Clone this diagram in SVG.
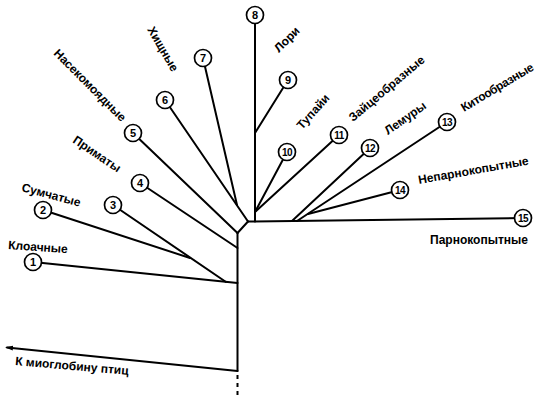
<svg xmlns="http://www.w3.org/2000/svg" width="541" height="400" viewBox="0 0 541 400">
<defs>
<style>
.ln{stroke:#000;stroke-width:2;fill:none;stroke-linecap:round}
.dash{stroke:#000;stroke-width:2;fill:none;stroke-dasharray:4 4}
circle{fill:#fff;stroke:#000;stroke-width:1.7}
.num{font-family:"Liberation Sans",Arial,sans-serif;font-weight:bold;font-size:11px;text-anchor:middle;fill:#000}
.num2{font-family:"Liberation Sans",Arial,sans-serif;font-weight:bold;font-size:10px;text-anchor:middle;fill:#000;letter-spacing:-0.6px}
.lbl{font-family:"Liberation Sans",Arial,sans-serif;font-weight:bold;font-size:12px;fill:#000}
</style>
<marker id="arr" markerWidth="8" markerHeight="6" refX="6" refY="3" orient="auto" markerUnits="userSpaceOnUse">
<path d="M8,3 L0,0.5 L0,5.5 Z" fill="#000"/>
</marker>
</defs>
<rect width="541" height="400" fill="#fff"/>
<g id="connectors">
<line class="ln" x1="237.5" y1="233" x2="237.5" y2="371"/>
<line class="ln" x1="237.5" y1="233" x2="248" y2="221.5"/>
<line class="ln" x1="248" y1="221.5" x2="523" y2="218"/>
<line class="ln" x1="255" y1="15" x2="255" y2="221.5"/>
<line class="ln" x1="288" y1="80" x2="255" y2="133"/>
<line class="ln" x1="287" y1="152" x2="255" y2="212"/>
<line class="ln" x1="339" y1="135" x2="255" y2="212"/>
<line class="ln" x1="370" y1="148" x2="292" y2="221"/>
<line class="ln" x1="447" y1="122" x2="297" y2="221"/>
<line class="ln" x1="400" y1="190" x2="308" y2="214"/>
<line class="ln" x1="203" y1="58" x2="237" y2="205"/>
<line class="ln" x1="165" y1="100" x2="248" y2="221.5"/>
<line class="ln" x1="133" y1="133" x2="237.5" y2="233"/>
<line class="ln" x1="140" y1="183" x2="237.5" y2="248"/>
<line class="ln" x1="113" y1="205" x2="226" y2="282"/>
<line class="ln" x1="43" y1="210" x2="190" y2="258"/>
<line class="ln" x1="33" y1="262" x2="237.5" y2="283"/>
<line class="ln" x1="237.5" y1="371" x2="7" y2="347.5" marker-end="url(#arr)"/>
<line class="dash" x1="237.5" y1="375" x2="237.5" y2="399"/>
</g>
<g id="n1"><circle cx="33" cy="262" r="8.5"/><text class="num" x="33" y="266">1</text>
<text class="lbl" transform="translate(8,249) rotate(4)">Клоачные</text></g>
<g id="n2"><circle cx="43" cy="210" r="8.5"/><text class="num" x="43" y="214">2</text>
<text class="lbl" transform="translate(21,191) rotate(15)">Сумчатые</text></g>
<g id="n3"><circle cx="113" cy="205" r="8.5"/><text class="num" x="113" y="209">3</text></g>
<g id="n4"><circle cx="140" cy="183" r="8.5"/><text class="num" x="140" y="187">4</text>
<text class="lbl" transform="translate(72,142) rotate(34)">Приматы</text></g>
<g id="n5"><circle cx="133" cy="133" r="8.5"/><text class="num" x="133" y="137">5</text>
<text class="lbl" transform="translate(53,54) rotate(45)">Насекомоядные</text></g>
<g id="n6"><circle cx="165" cy="100" r="8.5"/><text class="num" x="165" y="104">6</text></g>
<g id="n7"><circle cx="203" cy="58" r="8.5"/><text class="num" x="203" y="62">7</text>
<text class="lbl" transform="translate(147,29.5) rotate(60)">Хищные</text></g>
<g id="n8"><circle cx="255" cy="15" r="8.5"/><text class="num" x="255" y="19">8</text>
<text class="lbl" transform="translate(279,53) rotate(-45)">Лори</text></g>
<g id="n9"><circle cx="288" cy="80" r="8.5"/><text class="num" x="288" y="84">9</text></g>
<g id="n10"><circle cx="287" cy="152" r="8.5"/><text class="num2" x="287" y="155.5">10</text>
<text class="lbl" transform="translate(302,130) rotate(-48)">Тупайи</text></g>
<g id="n11"><circle cx="339" cy="135" r="8.5"/><text class="num2" x="339" y="138.5">11</text>
<text class="lbl" transform="translate(353,122) rotate(-40)">Зайцеобразные</text></g>
<g id="n12"><circle cx="370" cy="148" r="8.5"/><text class="num2" x="370" y="151.5">12</text>
<text class="lbl" transform="translate(388,135) rotate(-35)">Лемуры</text></g>
<g id="n13"><circle cx="447" cy="122" r="8.5"/><text class="num2" x="447" y="125.5">13</text>
<text class="lbl" transform="translate(464,112) rotate(-31)" letter-spacing="-0.4">Китообразные</text></g>
<g id="n14"><circle cx="400" cy="190" r="8.5"/><text class="num2" x="400" y="193.5">14</text>
<text class="lbl" transform="translate(419,184) rotate(-10)">Непарнокопытные</text></g>
<g id="n15"><circle cx="523" cy="218" r="8.5"/><text class="num2" x="523" y="221.5">15</text>
<text class="lbl" x="430" y="244">Парнокопытные</text></g>
<g id="birds"><text class="lbl" transform="translate(15,365) rotate(5)">К миоглобину птиц</text></g>
</svg>
